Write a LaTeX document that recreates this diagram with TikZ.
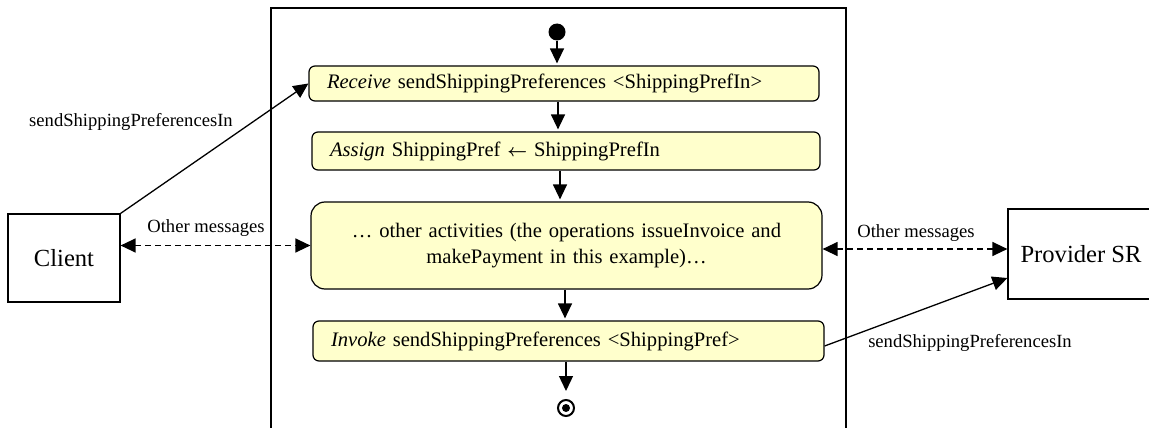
\documentclass[tikz,border=0pt]{standalone}
\usepackage{fontspec}
\setmainfont{Liberation Serif}
\usetikzlibrary{arrows.meta,calc}
\definecolor{actfill}{RGB}{255,255,204}
\tikzset{
  act/.style={draw, line width=1.2pt, fill=actfill, rounded corners=6pt,
    inner xsep=18pt, inner ysep=0pt, align=left,
    font=\fontsize{20.6}{26}\selectfont},
  party/.style={draw, line width=1.2pt, inner sep=0pt,
    font=\fontsize{24.6}{29}\selectfont},
  lbl/.style={inner sep=0pt, font=\fontsize{18.6}{22}\selectfont},
  flow/.style={line width=1.3pt, -{Triangle[length=15pt,width=14pt]}, shorten >=2pt},
  msg/.style={line width=1.3pt, dash pattern=on 6pt off 4pt,
    {Triangle[length=15pt,width=14pt]}-{Triangle[length=15pt,width=14pt]}},
  send/.style={line width=1.3pt, -{Triangle[length=15pt,width=14pt]}},
}
\begin{document}
\begin{tikzpicture}[x=1pt, y=-1pt]
\useasboundingbox (0,0) rectangle (1149,428);

% process frame (open at the bottom)
\draw[line width=1.3pt] (271,432) -- (271,8) -- (846,8) -- (846,432);

% initial node
\node[circle, fill=black, minimum size=17pt, inner sep=0pt] (start) at (557,32) {};

% activities
\node[act, text width=474pt, minimum height=35pt] (recv) at (564,83.5)
  {\textit{Receive} sendShippingPreferences <ShippingPrefIn>};
\node[act, text width=472pt, minimum height=38pt] (assign) at (566,151)
  {\textit{Assign} ShippingPref {\fontsize{17}{20}\selectfont\boldmath$\leftarrow$} ShippingPrefIn};
\node[act, rounded corners=14pt, align=center, text width=475pt, minimum height=87pt] (other) at (566.5,245.5)
  {… other activities (the operations issueInvoice and\\makePayment in this example)…};
\node[act, text width=475pt, minimum height=40pt] (inv) at (568.5,341)
  {\textit{Invoke} sendShippingPreferences <ShippingPref>};

% final node
\node[circle, draw, line width=2pt, minimum size=16pt, inner sep=0pt,
  path picture={\fill (path picture bounding box.center) circle (4pt);}] (end) at (566,408) {};

% control flow
\draw[flow] (start) -- (start |- recv.north);
\draw[flow] ([xshift=-6pt]recv.south) -- ([xshift=-6pt]recv.south |- assign.north);
\draw[flow] ([xshift=-6pt]assign.south) -- ([xshift=-6pt]assign.south |- other.north);
\draw[flow] ([xshift=-1.5pt]other.south) -- ([xshift=-1.5pt]other.south |- inv.north);
\draw[flow, shorten >=8pt] ([xshift=-2.5pt]inv.south) -- (end.north);

% partners
\node[party, minimum width=112pt, minimum height=88pt] (client) at (64,258) {Client};
\node[party, minimum width=146pt, minimum height=90pt] (prov) at (1081,254) {Provider SR};

% message exchanges
\draw[send] (client.north east) -- (recv.west);
\draw[send] ([yshift=-5pt]inv.east) -- ([yshift=-24pt]prov.west);
\draw[msg] (client.east |- other.west) -- (other.west);
\draw[msg] ([yshift=-3.5pt]other.east) -- ([yshift=-3.5pt]other.east -| prov.west);

% labels
\node[lbl] (l1) at (131,122) {sendShippingPreferencesIn};
\node[lbl] (l2) at (206,228) {Other messages};
\node[lbl] (l3) at (916,233) {Other messages};
\node[lbl] (l4) at (970,343) {sendShippingPreferencesIn};
\end{tikzpicture}
\end{document}
